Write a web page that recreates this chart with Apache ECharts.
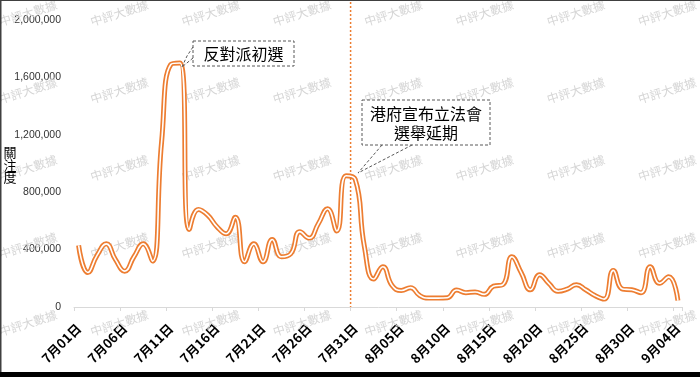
<!DOCTYPE html>
<html>
<head>
<meta charset="utf-8">
<script src="https://cdn.jsdelivr.net/npm/echarts@6.0.0/dist/echarts.min.js"></script>
<style>
html, body { margin: 0; padding: 0; background: #fff; }
#chart { width: 700px; height: 377px; }
</style>
</head>
<body>
<div id="chart"></div>
<script>
// 日期 (7/01 - 9/04)
var dates = [
  '7月01日','7月02日','7月03日','7月04日','7月05日','7月06日','7月07日','7月08日','7月09日','7月10日',
  '7月11日','7月12日','7月13日','7月14日','7月15日','7月16日','7月17日','7月18日','7月19日','7月20日',
  '7月21日','7月22日','7月23日','7月24日','7月25日','7月26日','7月27日','7月28日','7月29日','7月30日',
  '7月31日','8月01日','8月02日','8月03日','8月04日','8月05日','8月06日','8月07日','8月08日','8月09日',
  '8月10日','8月11日','8月12日','8月13日','8月14日','8月15日','8月16日','8月17日','8月18日','8月19日',
  '8月20日','8月21日','8月22日','8月23日','8月24日','8月25日','8月26日','8月27日','8月28日','8月29日',
  '8月30日','8月31日','9月01日','9月02日','9月03日','9月04日'
];

// 關注度
var attention = [
  430000, 240000, 360000, 440000, 330000, 250000, 350000, 440000, 320000, 1150000,
  1690000, 1700000, 540000, 680000, 640000, 560000, 510000, 625000, 315000, 440000,
  315000, 470000, 350000, 370000, 525000, 480000, 580000, 685000, 530000, 915000,
  890000, 420000, 195000, 280000, 150000, 115000, 135000, 80000, 62000, 62000,
  65000, 118000, 100000, 105000, 88000, 145000, 155000, 350000, 240000, 120000,
  225000, 165000, 110000, 125000, 155000, 120000, 80000, 55000, 255000, 125000,
  120000, 100000, 280000, 165000, 210000, 45000
];

var yMax = 2000000;
var yStep = 400000;
var markDate = '7月31日';

var orange = '#ED7D31';
var cjk = '"Noto Sans CJK TC", "Noto Sans CJK SC", sans-serif';

var chart = echarts.init(document.getElementById('chart'));

var option = {
    animation: false,
    backgroundColor: '#fff',
    grid: { left: 74, right: 17.5, top: 20, bottom: 70 },
    xAxis: {
        type: 'category',
        data: dates,
        boundaryGap: true,
        axisLine: { lineStyle: { color: '#d9d9d9', width: 1 } },
        axisTick: { show: true, interval: 4, length: 4, lineStyle: { color: '#d9d9d9' } },
        axisLabel: {
            interval: 4,
            rotate: 45,
            margin: 19,
            fontSize: 13,
            fontWeight: 'bold',
            color: '#000',
            fontFamily: cjk
        },
        splitLine: { show: false }
    },
    yAxis: {
        type: 'value',
        min: 0,
        max: yMax,
        interval: yStep,
        axisLine: { show: false },
        axisTick: { show: false },
        splitLine: { show: false },
        axisLabel: {
            margin: 13,
            fontSize: 10.5,
            color: '#333',
            fontFamily: '"Liberation Sans", Arial, sans-serif',
            formatter: function (v) { return v.toLocaleString('en-US'); }
        }
    },
    series: [
        {
            type: 'line',
            data: attention,
            smooth: 0.5,
            symbol: 'none',
            z: 3,
            lineStyle: { color: orange, width: 5 }
        },
        {
            type: 'line',
            data: attention,
            smooth: 0.5,
            symbol: 'none',
            z: 4,
            lineStyle: { color: '#fff', width: 1.6 }
        }
    ]
};

chart.setOption(option);

// 其他圖形: 水印, 標註, 虛線
var g = [];

// watermark
for (var r = 0; r < 5; r++) {
    for (var c = 0; c < 8; c++) {
        g.push({
            type: 'text',
            x: 28 + c * 91.3,
            y: 13 + r * 77.5,
            rotation: 0.3,
            z: 1,
            silent: true,
            style: {
                text: '中評大數據',
                fill: '#d6d6d6',
                fontSize: 12,
                fontFamily: cjk,
                align: 'center',
                verticalAlign: 'middle'
            }
        });
    }
}

// vertical dashed line at 7/31
var idx = dates.indexOf(markDate);
var xa = chart.convertToPixel({ xAxisIndex: 0 }, idx - 1);
var xb = chart.convertToPixel({ xAxisIndex: 0 }, idx);
var xm = (xa + xb) / 2;
var y0 = chart.convertToPixel({ yAxisIndex: 0 }, 0);
g.push({
    type: 'line', z: 2, silent: true,
    shape: { x1: xm, y1: 2, x2: xm, y2: y0 },
    style: { stroke: orange, lineWidth: 1.5, lineDash: [2, 2] }
});

// callout 1
g.push({
    type: 'rect', z: 10,
    shape: { x: 193, y: 41, width: 101, height: 25 },
    style: { fill: '#fff', stroke: '#595959', lineWidth: 1, lineDash: [3, 2] }
});
g.push({
    type: 'text', z: 11, x: 243.5, y: 54,
    style: { text: '反對派初選', fontSize: 16, fill: '#000', fontFamily: cjk, align: 'center', verticalAlign: 'middle' }
});
g.push({
    type: 'polyline', z: 11,
    shape: { points: [[193, 47], [187, 56], [182, 67]] },
    style: { fill: null, stroke: '#595959', lineWidth: 1, lineDash: [3, 2] }
});
g.push({
    type: 'line', z: 11,
    shape: { x1: 193, y1: 58, x2: 182, y2: 67 },
    style: { stroke: '#595959', lineWidth: 1, lineDash: [3, 2] }
});

// callout 2
g.push({
    type: 'rect', z: 10,
    shape: { x: 362, y: 100, width: 128, height: 45 },
    style: { fill: '#fff', stroke: '#595959', lineWidth: 1, lineDash: [3, 2] }
});
g.push({
    type: 'text', z: 11, x: 426, y: 123,
    style: { text: '港府宣布立法會\n選舉延期', fontSize: 16, lineHeight: 19, fill: '#000', fontFamily: cjk, align: 'center', verticalAlign: 'middle' }
});
g.push({
    type: 'line', z: 11,
    shape: { x1: 382, y1: 145, x2: 358, y2: 173 },
    style: { stroke: '#595959', lineWidth: 1, lineDash: [3, 2] }
});
g.push({
    type: 'line', z: 11,
    shape: { x1: 412, y1: 145, x2: 358, y2: 173 },
    style: { stroke: '#595959', lineWidth: 1, lineDash: [3, 2] }
});

// y axis name
g.push({
    type: 'text', z: 11, x: 10, y: 165,
    style: { text: '關\n注\n度', fontSize: 13, lineHeight: 12.5, fill: '#000', fontFamily: cjk, align: 'center', verticalAlign: 'middle' }
});

// frame
g.push({ type: 'rect', z: 20, shape: { x: 0, y: 0, width: 700, height: 1 }, style: { fill: '#404040' } });
g.push({ type: 'rect', z: 20, shape: { x: 0, y: 0, width: 1.5, height: 377 }, style: { fill: '#404040' } });
g.push({ type: 'rect', z: 20, shape: { x: 0, y: 372, width: 700, height: 5 }, style: { fill: '#000' } });

chart.setOption({ graphic: g });
</script>
</body>
</html>
